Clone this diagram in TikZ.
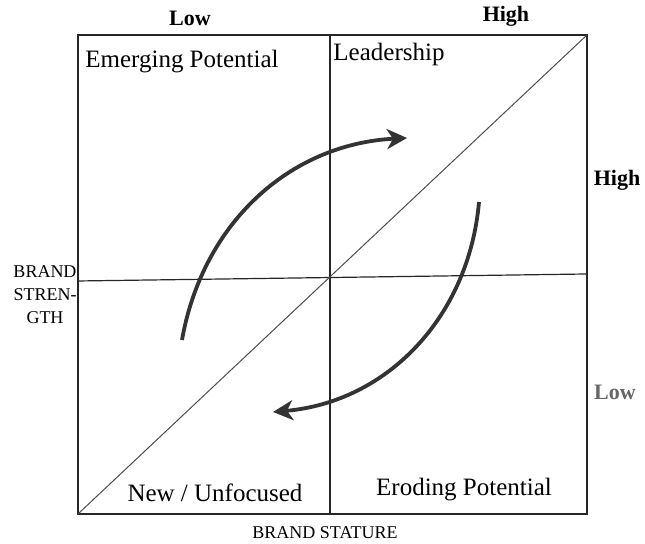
\documentclass[tikz,border=0pt]{standalone}
\usepackage{fontspec}
\setmainfont{Liberation Serif}
\usetikzlibrary{arrows.meta}

\tikzset{
  grid line/.style={draw=black!85,line width=0.6pt},
  cycle arrow/.style={draw=black!80,line width=1.9pt,-{Stealth[length=10pt,width=10pt,inset=3pt]}},
  cell/.style={font=\fontsize{12.5}{15}\selectfont,inner sep=0pt},
  level/.style={font=\fontsize{11}{13}\selectfont\bfseries,inner sep=0pt},
  axis name/.style={font=\fontsize{9}{11.5}\selectfont,align=center,inner sep=0pt}
}

\begin{document}
\begin{tikzpicture}[x=0.5pt,y=0.5pt]
  \useasboundingbox (0,0) rectangle (645,544);
  % frame and the two dividers
  \coordinate (sw) at (78,30);
  \coordinate (ne) at (587,509);
  \coordinate (midS) at (330,30); \coordinate (midN) at (330,509);
  \coordinate (midW) at (78,263); \coordinate (midE) at (587,270);
  \draw[grid line] (sw) rectangle (ne);
  \draw[grid line] (midS) -- (midN);
  \draw[grid line] (midW) -- (midE);
  \draw[draw=black!70,line width=0.5pt] (sw) -- (ne);
  % quadrant names
  \node[cell] (emerging) at (182,482) {Emerging Potential};
  \node[cell] (leader) at (389,489) {Leadership};
  \node[cell] (newunf) at (215,51) {New / Unfocused};
  \node[cell] (eroding) at (464,54) {Eroding Potential};
  % scale ends
  \node[level] (statLow) at (190,526) {Low};
  \node[level] (statHigh) at (506,528) {High};
  \node[level] (strHigh) at (617,364) {High};
  \node[level,text=black!60] (strLow) at (615,152) {Low};
  % axis names
  \node[axis name] (strength) at (45,249) {BRAND\\STREN-\\GTH};
  \node[axis name] (stature) at (325,11) {BRAND STATURE};
  % movement between quadrants
  \coordinate (upS) at (182,204); \coordinate (upE) at (407,406);
  \coordinate (loS) at (479,342); \coordinate (loE) at (273,132);
  \draw[cycle arrow] (upS) to[out=80,in=183] (upE);
  \draw[cycle arrow] (loS) to[out=265,in=5] (loE);
\end{tikzpicture}
\end{document}
